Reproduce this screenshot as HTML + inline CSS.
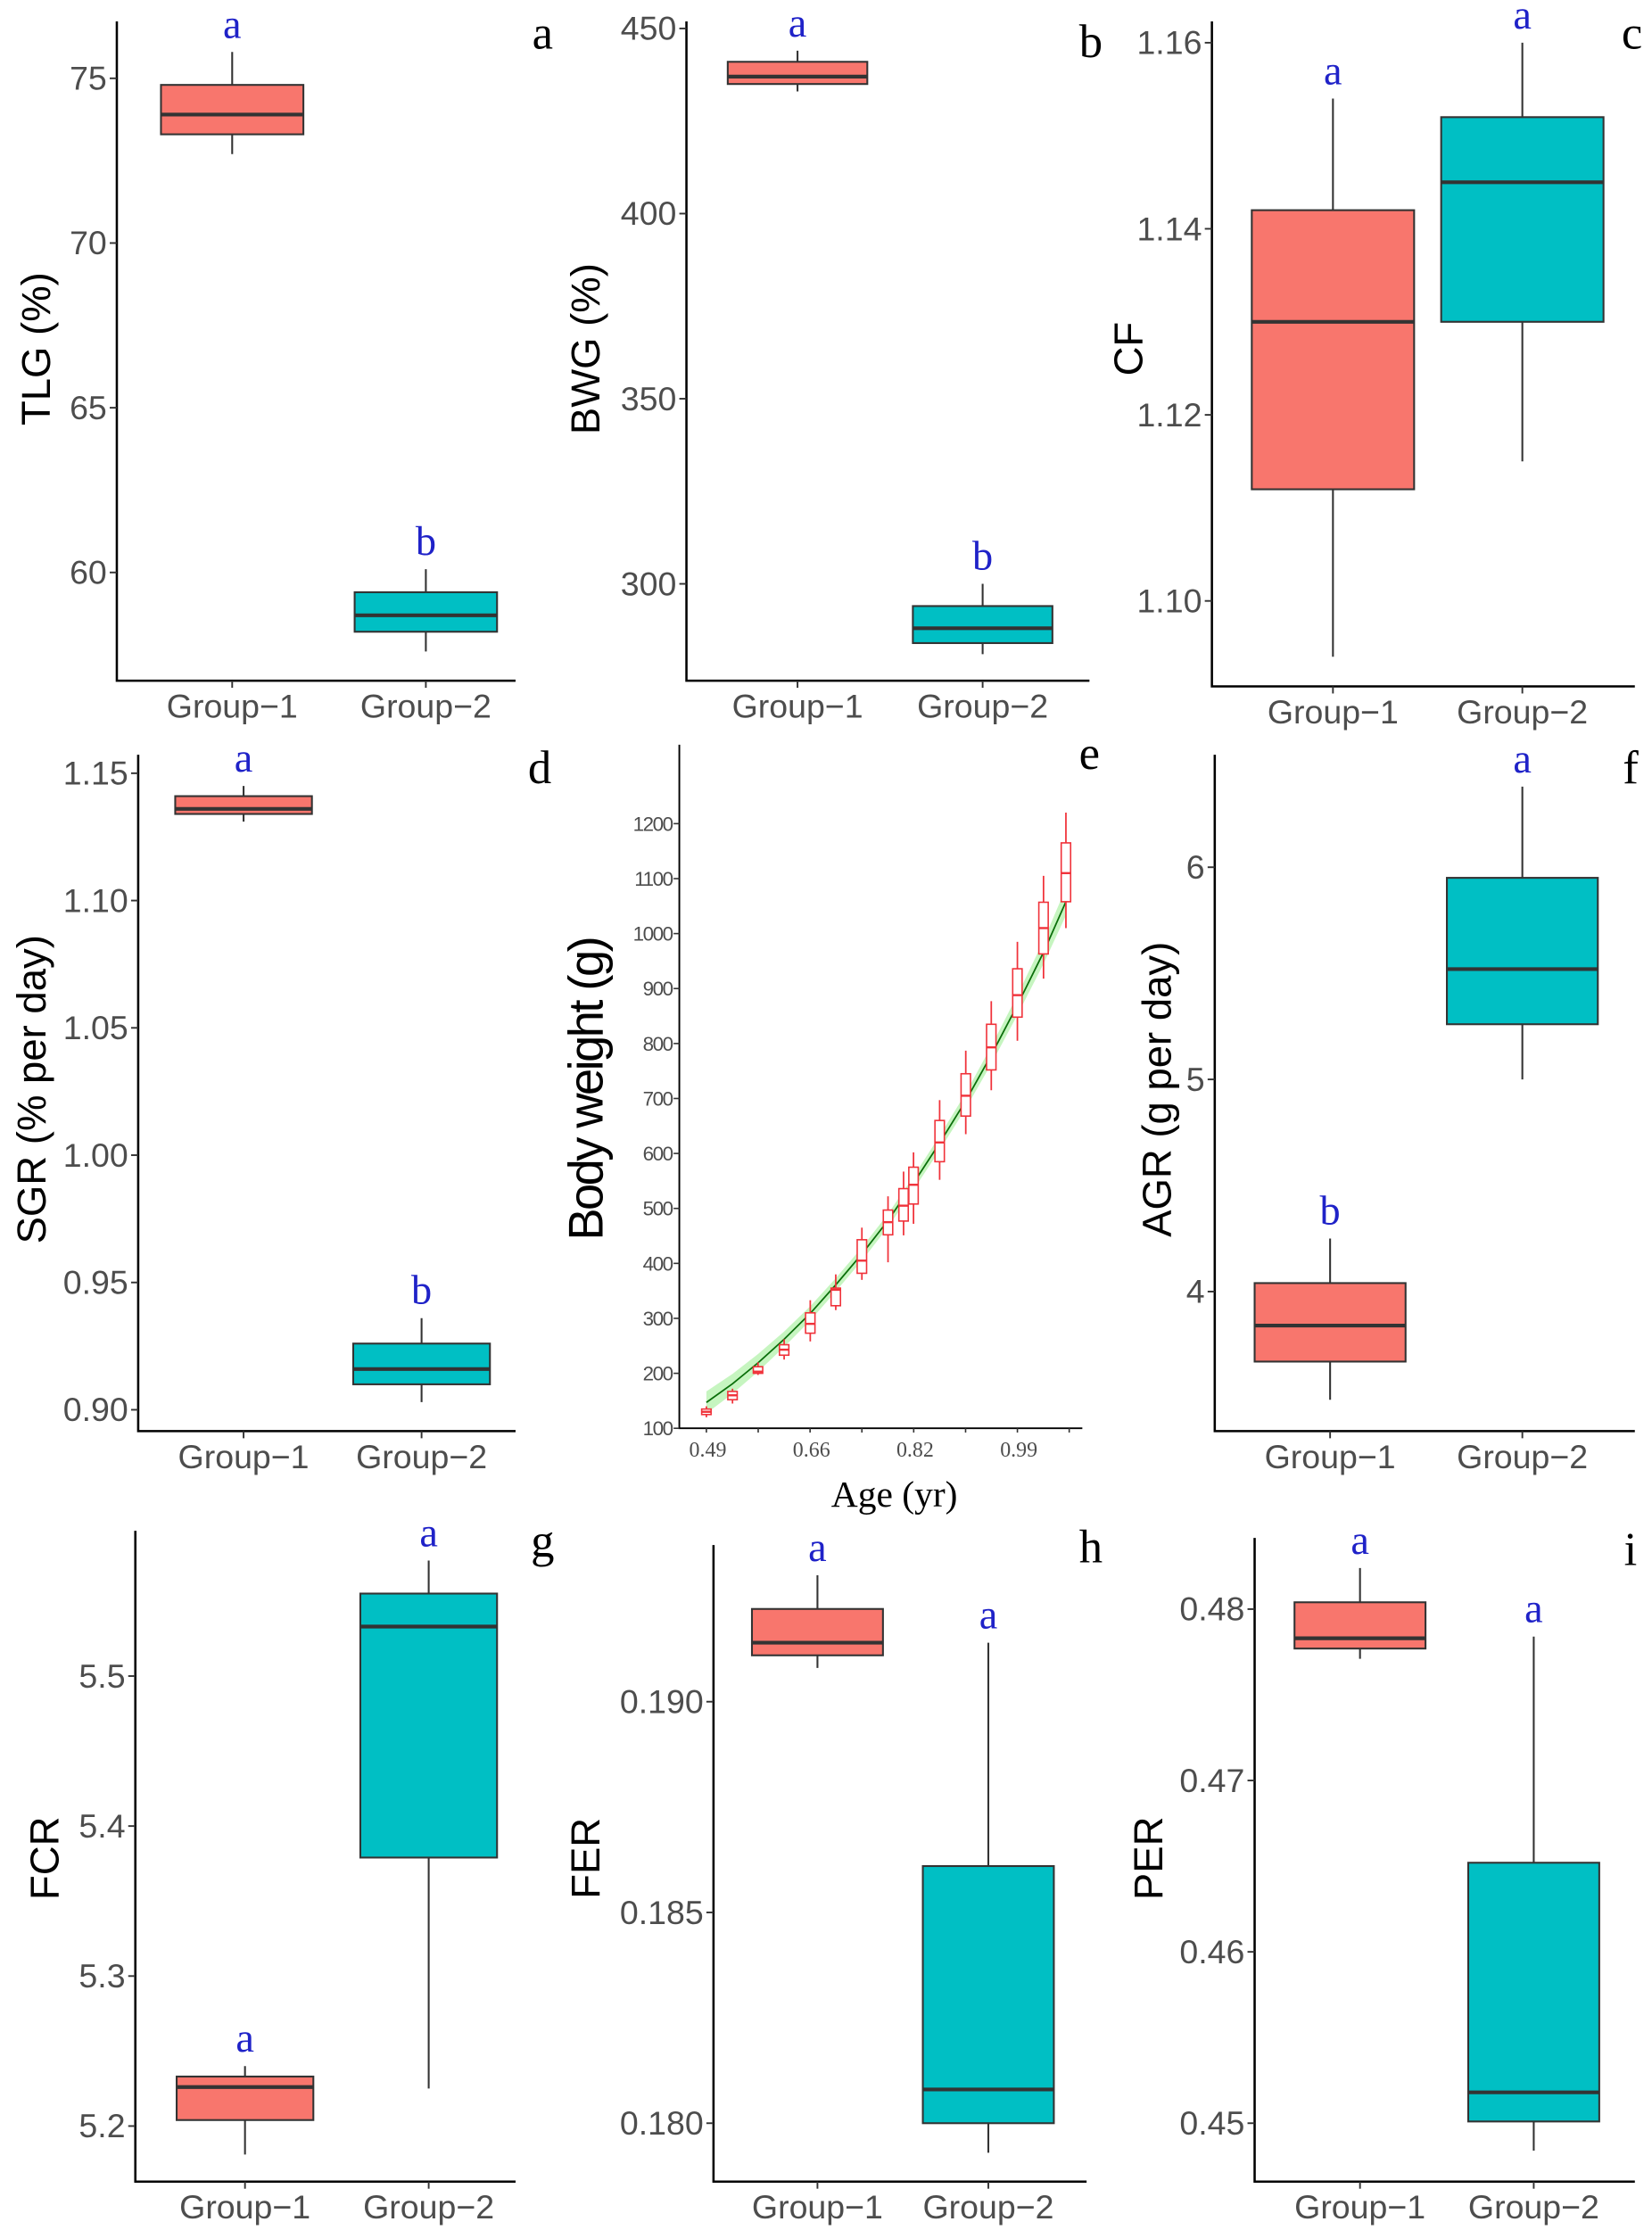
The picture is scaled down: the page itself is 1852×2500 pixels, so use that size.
<!DOCTYPE html>
<html><head><meta charset="utf-8">
<style>
html,body{margin:0;padding:0;background:#fff;}
svg{display:block;}
</style></head>
<body>
<svg id="fig" xmlns="http://www.w3.org/2000/svg" width="1852" height="2500" viewBox="0 0 1160 1566"></svg>
<script>
// ---------- Data ----------
const groups = ["Group\u22121", "Group\u22122"];
// [low, q1, median, q3, high]
const tlgStats = [[72.7, 73.3, 73.9, 74.8, 75.8], [57.6, 58.2, 58.7, 59.4, 60.1]];
const bwgStats = [[433, 435, 437, 441, 444], [281, 284, 288, 294, 300]];
const cfStats = [[1.094, 1.112, 1.130, 1.142, 1.154], [1.115, 1.130, 1.145, 1.152, 1.160]];
const sgrStats = [[1.131, 1.134, 1.136, 1.141, 1.145], [0.903, 0.910, 0.916, 0.926, 0.936]];
const agrStats = [[3.49, 3.67, 3.84, 4.04, 4.25], [5.00, 5.26, 5.52, 5.95, 6.38]];
const fcrStats = [[5.181, 5.204, 5.226, 5.233, 5.240], [5.225, 5.379, 5.533, 5.555, 5.577]];
const ferStats = [[0.1908, 0.1911, 0.1914, 0.1922, 0.1930], [0.1793, 0.1800, 0.1808, 0.1861, 0.1914]];
const perStats = [[0.4771, 0.4777, 0.4783, 0.4804, 0.4824], [0.4484, 0.4501, 0.4518, 0.4652, 0.4784]];
const tlgLetters = ["a", "b"], bwgLetters = ["a", "b"], cfLetters = ["a", "a"], sgrLetters = ["a", "b"];
const agrLetters = ["b", "a"], fcrLetters = ["a", "a"], ferLetters = ["a", "a"], perLetters = ["a", "a"];
const tlgTicks = [60, 65, 70, 75];
const bwgTicks = [300, 350, 400, 450];
const cfTicks = [1.10, 1.12, 1.14, 1.16];
const sgrTicks = [0.90, 0.95, 1.00, 1.05, 1.10, 1.15];
const agrTicks = [4, 5, 6];
const fcrTicks = [5.2, 5.3, 5.4, 5.5];
const ferTicks = [0.180, 0.185, 0.190];
const perTicks = [0.45, 0.46, 0.47, 0.48];

// Panel e: body weight by age
const ageValues = [0.49, 0.532, 0.573, 0.615, 0.657, 0.698, 0.74, 0.782, 0.807, 0.823, 0.865, 0.907, 0.948, 0.99, 1.032, 1.068];
const bwLow =  [120, 145, 197, 225, 258, 315, 370, 402, 451, 472, 552, 635, 715, 805, 918, 1010];
const bwQ1 =   [125, 152, 200, 233, 273, 323, 382, 452, 477, 508, 585, 668, 752, 848, 963, 1058];
const bwMed =  [130, 160, 203, 243, 290, 352, 405, 475, 505, 543, 620, 705, 793, 888, 1010, 1110];
const bwQ3 =   [135, 167, 212, 252, 310, 355, 443, 497, 536, 575, 660, 745, 835, 936, 1057, 1165];
const bwHigh = [140, 172, 220, 262, 333, 380, 465, 522, 567, 602, 697, 787, 877, 985, 1105, 1220];
const fitAges = [0.49, 0.532, 0.573, 0.615, 0.657, 0.698, 0.74, 0.782, 0.823, 0.865, 0.907, 0.948, 0.99, 1.032, 1.068];
const fitValues = [147, 181, 219, 262, 309, 361, 417, 478, 546, 619, 696, 779, 870, 966, 1058];
const fitLow = [127, 163, 203, 248, 296, 349, 405, 466, 534, 606, 682, 763, 852, 945, 1033];
const fitHigh = [167, 199, 235, 276, 322, 373, 429, 490, 558, 632, 710, 795, 888, 987, 1083];
const bwTicks = [100, 200, 300, 400, 500, 600, 700, 800, 900, 1000, 1100, 1200];
const ageTicks = [0.49, 0.5733, 0.6567, 0.74, 0.8233, 0.9067, 0.99, 1.0733];
const ageTickLabels = ["0.49", "", "0.66", "", "0.82", "", "0.99", ""];

// ---------- Drawing ----------
const NS = "http://www.w3.org/2000/svg";
const svg = document.getElementById("fig");
function el(tag, parent) { const e = document.createElementNS(NS, tag); parent.appendChild(e); return e; }
const SANS = "'Liberation Sans', Arial, sans-serif";
const SERIF = "'Liberation Serif', 'DejaVu Serif', serif";
const FILLS = ["#F8766D", "#00BFC4"];

function boxPanel(cfg, stats, letters, ticks) {
  const g = el("g", svg);
  
  
  const yS = v => cfg.y1 + (v - cfg.v1) * (cfg.y2 - cfg.y1) / (cfg.v2 - cfg.v1);
  const gx = [cfg.g1x, cfg.g2x];
  const ax = el("path", g);
  
  
  ax.setAttribute("d", `M${cfg.ax},${cfg.top}V${cfg.axY}H${cfg.right}`);
  ax.setAttribute("fill", "none"); ax.setAttribute("stroke", "#000"); ax.setAttribute("stroke-width", "1.6");
  ticks.forEach(t => {
    const y = yS(t);
    const tk = el("line", g);
    
    
    tk.setAttribute("x1", cfg.ax - 5); tk.setAttribute("x2", cfg.ax); tk.setAttribute("y1", y); tk.setAttribute("y2", y);
    tk.setAttribute("stroke", "#333"); tk.setAttribute("stroke-width", "1.2");
    const tl = el("text", g);
    
    
    tl.setAttribute("x", cfg.ax - 7); tl.setAttribute("y", y + 8);
    tl.setAttribute("text-anchor", "end"); tl.setAttribute("font-family", SANS); tl.setAttribute("font-size", "23.5"); tl.setAttribute("fill", "#4d4d4d");
    tl.textContent = cfg.fmt(t);
  });
  for (let i = 0; i < 2; i++) {
    const s = stats[i], x = gx[i], hw = cfg.bw / 2;
    const xt = el("line", g);
    
    
    xt.setAttribute("x1", x); xt.setAttribute("x2", x); xt.setAttribute("y1", cfg.axY); xt.setAttribute("y2", cfg.axY + 5);
    xt.setAttribute("stroke", "#333"); xt.setAttribute("stroke-width", "1.2");
    const xl = el("text", g);
    
    
    xl.setAttribute("x", x); xl.setAttribute("y", cfg.axY + 26);
    xl.setAttribute("text-anchor", "middle"); xl.setAttribute("font-family", SANS); xl.setAttribute("font-size", "23.5"); xl.setAttribute("fill", "#4d4d4d");
    xl.textContent = groups[i];
    const wk = el("line", g);
    
    
    wk.setAttribute("x1", x); wk.setAttribute("x2", x); wk.setAttribute("y1", yS(s[0])); wk.setAttribute("y2", yS(s[4]));
    wk.setAttribute("stroke", "#333"); wk.setAttribute("stroke-width", "1.3");
    const bx = el("rect", g);
    
    
    bx.setAttribute("x", x - hw); bx.setAttribute("y", yS(s[3])); bx.setAttribute("width", cfg.bw);
    bx.setAttribute("height", Math.max(0.5, yS(s[1]) - yS(s[3])));
    bx.setAttribute("fill", FILLS[i]); bx.setAttribute("stroke", "#333"); bx.setAttribute("stroke-width", "1.3");
    const md = el("line", g);
    
    
    md.setAttribute("x1", x - hw); md.setAttribute("x2", x + hw); md.setAttribute("y1", yS(s[2])); md.setAttribute("y2", yS(s[2]));
    md.setAttribute("stroke", "#333"); md.setAttribute("stroke-width", "2.6");
    const lt = el("text", g);
    
    
    lt.setAttribute("x", x); lt.setAttribute("y", yS(s[4]) - 10);
    lt.setAttribute("text-anchor", "middle"); lt.setAttribute("font-family", SERIF); lt.setAttribute("font-size", "29"); lt.setAttribute("fill", "#1f22c8");
    lt.textContent = letters[i];
  }
  const yt = el("text", g);
  
  
  yt.setAttribute("transform", `translate(${cfg.titleX},${cfg.titleY}) rotate(-90)`);
  yt.setAttribute("text-anchor", "middle"); yt.setAttribute("font-family", SANS); yt.setAttribute("font-size", "28.5"); yt.setAttribute("fill", "#000");
  yt.textContent = cfg.title;
  const pl = el("text", g);
  
  
  pl.setAttribute("x", cfg.lx); pl.setAttribute("y", cfg.ly);
  pl.setAttribute("text-anchor", "middle"); pl.setAttribute("font-family", SERIF); pl.setAttribute("font-size", "33"); pl.setAttribute("fill", "#000");
  pl.textContent = cfg.label;
}

const f0 = v => String(v);
const f2 = v => v.toFixed(2);
const f3 = v => v.toFixed(3);
boxPanel({name:"tlg", ax:82, top:15, axY:478, right:362, v1:75, y1:55, v2:60, y2:402, g1x:163, g2x:299, bw:100, fmt:f0, title:"TLG (%)", titleX:35, titleY:245, label:"a", lx:381, ly:34}, tlgStats, tlgLetters, tlgTicks);
boxPanel({name:"bwg", ax:482, top:15, axY:478, right:765, v1:450, y1:20, v2:300, y2:410, g1x:560, g2x:690, bw:98, fmt:f0, title:"BWG (%)", titleX:421, titleY:245, label:"b", lx:766, ly:40}, bwgStats, bwgLetters, bwgTicks);
boxPanel({name:"cf", ax:851, top:15, axY:482, right:1148, v1:1.16, y1:30, v2:1.10, y2:422, g1x:936, g2x:1069, bw:114, fmt:f2, title:"CF", titleX:802, titleY:245, label:"c", lx:1146, ly:34}, cfStats, cfLetters, cfTicks);
boxPanel({name:"sgr", ax:97, top:530, axY:1005, right:362, v1:1.15, y1:543, v2:0.90, y2:990, g1x:171, g2x:296, bw:96, fmt:f2, title:"SGR (% per day)", titleX:32, titleY:765, label:"d", lx:379, ly:550}, sgrStats, sgrLetters, sgrTicks);
boxPanel({name:"agr", ax:853, top:530, axY:1005, right:1148, v1:6, y1:609, v2:4, y2:907, g1x:934, g2x:1069, bw:106, fmt:f0, title:"AGR (g per day)", titleX:822, titleY:765, label:"f", lx:1145, ly:550}, agrStats, agrLetters, agrTicks);
boxPanel({name:"fcr", ax:95, top:1075, axY:1532, right:362, v1:5.5, y1:1177, v2:5.2, y2:1493, g1x:172, g2x:301, bw:96, fmt:v => v.toFixed(1), title:"FCR", titleX:41, titleY:1305, label:"g", lx:381, ly:1093}, fcrStats, fcrLetters, fcrTicks);
boxPanel({name:"fer", ax:501, top:1085, axY:1532, right:763, v1:0.190, y1:1195, v2:0.180, y2:1491, g1x:574, g2x:694, bw:92, fmt:f3, title:"FER", titleX:421, titleY:1305, label:"h", lx:766, ly:1097}, ferStats, ferLetters, ferTicks);
boxPanel({name:"per", ax:881, top:1080, axY:1532, right:1148, v1:0.48, y1:1130, v2:0.45, y2:1491, g1x:955, g2x:1077, bw:92, fmt:f2, title:"PER", titleX:816, titleY:1305, label:"i", lx:1145, ly:1099}, perStats, perLetters, perTicks);

// ---------- Panel e ----------
(function () {
  const g = el("g", svg);
  
  
  const AX = 477, AXY = 1003, TOP = 523, RIGHT = 760;
  const xS = a => 496 + (a - 0.49) / 0.08333 * 36.4;
  const yS = v => 1003 - (v - 100) * 38.6 / 100;
  let d = "";
  fitAges.forEach((a, i) => { d += (i ? "L" : "M") + xS(a) + "," + yS(fitHigh[i]); });
  for (let i = fitAges.length - 1; i >= 0; i--) d += "L" + xS(fitAges[i]) + "," + yS(fitLow[i]);
  const band = el("path", g);
  
  
  band.setAttribute("d", d + "Z"); band.setAttribute("fill", "#c6f5c0");
  const fl = el("polyline", g);
  
  
  fl.setAttribute("points", fitAges.map((a, i) => xS(a) + "," + yS(fitValues[i])).join(" "));
  fl.setAttribute("fill", "none"); fl.setAttribute("stroke", "#0a6e0a"); fl.setAttribute("stroke-width", "1.1");
  ageValues.forEach((a, i) => {
    const x = xS(a), hw = 3.3;
    const w = el("line", g);
    
    
    w.setAttribute("x1", x); w.setAttribute("x2", x); w.setAttribute("y1", yS(bwLow[i])); w.setAttribute("y2", yS(bwHigh[i]));
    w.setAttribute("stroke", "#f0323a"); w.setAttribute("stroke-width", "1.1");
    const b = el("rect", g);
    
    
    b.setAttribute("x", x - hw); b.setAttribute("y", yS(bwQ3[i])); b.setAttribute("width", hw * 2);
    b.setAttribute("height", yS(bwQ1[i]) - yS(bwQ3[i]));
    b.setAttribute("fill", "#fff"); b.setAttribute("stroke", "#f0323a"); b.setAttribute("stroke-width", "1");
    const m = el("line", g);
    
    
    m.setAttribute("x1", x - hw); m.setAttribute("x2", x + hw); m.setAttribute("y1", yS(bwMed[i])); m.setAttribute("y2", yS(bwMed[i]));
    m.setAttribute("stroke", "#f0323a"); m.setAttribute("stroke-width", "1.5");
  });
  const ax = el("path", g);
  
  
  ax.setAttribute("d", `M${AX},${TOP}V${AXY}H${RIGHT}`);
  ax.setAttribute("fill", "none"); ax.setAttribute("stroke", "#000"); ax.setAttribute("stroke-width", "1.2");
  bwTicks.forEach(t => {
    const y = yS(t);
    const tk = el("line", g);
    
    
    tk.setAttribute("x1", AX - 4); tk.setAttribute("x2", AX); tk.setAttribute("y1", y); tk.setAttribute("y2", y);
    tk.setAttribute("stroke", "#333");
    const tl = el("text", g);
    
    
    tl.setAttribute("x", AX - 5); tl.setAttribute("y", y + 5);
    tl.setAttribute("text-anchor", "end"); tl.setAttribute("font-family", SANS); tl.setAttribute("font-size", "14"); tl.setAttribute("fill", "#4d4d4d");
    tl.setAttribute("letter-spacing", "-0.9");
    tl.textContent = t;
  });
  ageTicks.forEach((a, i) => {
    const x = xS(a);
    const tk = el("line", g);
    
    
    tk.setAttribute("x1", x); tk.setAttribute("x2", x); tk.setAttribute("y1", AXY); tk.setAttribute("y2", AXY + 3);
    tk.setAttribute("stroke", "#333");
    if (ageTickLabels[i]) {
      const tl = el("text", g);
      
      
      tl.setAttribute("x", x + 1); tl.setAttribute("y", AXY + 20);
      tl.setAttribute("text-anchor", "middle"); tl.setAttribute("font-family", SERIF); tl.setAttribute("font-size", "15"); tl.setAttribute("fill", "#4d4d4d");
      tl.textContent = ageTickLabels[i];
    }
  });
  const yt = el("text", g);
  
  
  yt.setAttribute("transform", "translate(423,765) rotate(-90)");
  yt.setAttribute("text-anchor", "middle"); yt.setAttribute("font-family", SANS); yt.setAttribute("font-size", "34"); yt.setAttribute("fill", "#000");
  yt.setAttribute("letter-spacing", "-1.6");
  yt.textContent = "Body weight (g)";
  const xt = el("text", g);
  
  
  xt.setAttribute("x", 628); xt.setAttribute("y", 1058);
  xt.setAttribute("text-anchor", "middle"); xt.setAttribute("font-family", SERIF); xt.setAttribute("font-size", "26"); xt.setAttribute("fill", "#000");
  xt.textContent = "Age (yr)";
  const pl = el("text", g);
  
  
  pl.setAttribute("x", 765); pl.setAttribute("y", 540);
  pl.setAttribute("text-anchor", "middle"); pl.setAttribute("font-family", SERIF); pl.setAttribute("font-size", "33"); pl.setAttribute("fill", "#000");
  pl.textContent = "e";
})();
</script>
</body></html>
